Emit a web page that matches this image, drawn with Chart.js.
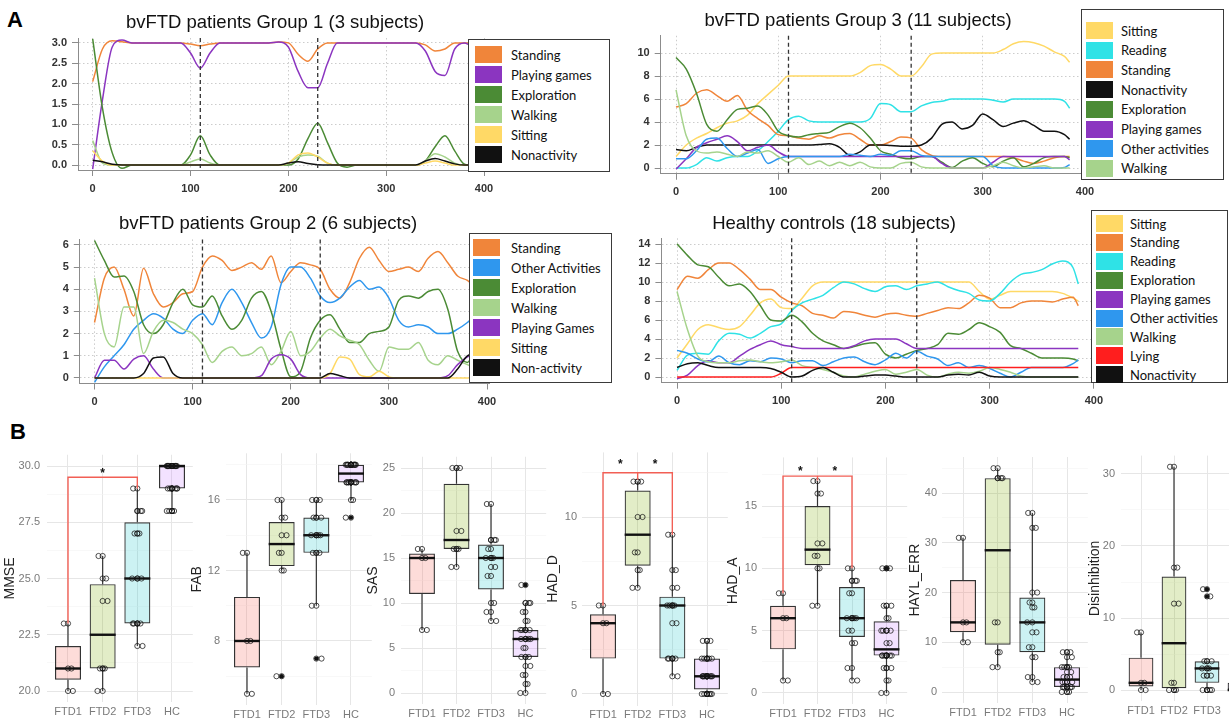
<!DOCTYPE html>
<html>
<head>
<meta charset="utf-8">
<title>Activity time courses and clinical scores</title>
<script src="https://cdn.jsdelivr.net/npm/chart.js@4.4.1/dist/chart.umd.min.js"></script>
<style>
  html, body { margin: 0; padding: 0; background: #fff; }
  body { position: relative; width: 1229px; height: 720px; overflow: hidden; font-family: "Liberation Sans", Arial, sans-serif; }
  canvas { position: absolute; left: 0; top: 0; }
  .letter { position: absolute; font-weight: bold; font-size: 22px; line-height: 24px; color: #000; }
  .title { position: absolute; font-size: 18.5px; line-height: 22px; color: #111; white-space: nowrap; transform: translateX(-50%); }
  .legend { position: absolute; z-index: 5; box-sizing: border-box; border: 1.5px solid #3a3a3a; background: #fff;
            font-family: Lato, "Open Sans", sans-serif; font-size: 13px; color: #111; }
  .legend .sw { position: absolute; width: 27px; height: 17px; }
  .legend .lb { position: absolute; white-space: nowrap; line-height: 18px; }
</style>
</head>
<body>
<div class="letter" style="left:7px;top:8px">A</div>
<div class="letter" style="left:10px;top:420px">B</div>
<script>
const CW = 1300, CH = 720;

// ---------- A: activity time courses ----------
const time = [0,10,20,30,40,50,60,70,80,90,100,110,120,130,140,150,160,170,180,190,
              200,210,220,230,240,250,260,270,280,290,300,310,320,330,340,350,360,370,380,385];
const xTicks = [0, 100, 200, 300, 400];
const phaseMarks = [110, 230];

// Group 1
const g1Labels = ['Standing', 'Playing games', 'Exploration', 'Walking', 'Sitting', 'Nonactivity'];
const g1Standing = [2.05,2.85,3.05,3.03,3.0,3.0,3.0,3.0,3.0,3.0, 2.97,2.93,2.97,3.0,3.0,3.0,3.0,3.0,3.0,3.02, 3.0,2.72,2.55,2.85,3.0,3.0,3.0,3.0,3.0,3.0, 3.0,3.0,3.0,3.0,2.95,2.8,2.85,3.0,3.0,3.0];
const g1Playing = [-0.1,1.6,2.9,3.07,3.0,3.0,3.0,3.0,3.0,3.0, 2.75,2.38,2.75,3.0,3.0,3.0,3.0,3.0,3.0,3.02, 2.9,2.3,1.9,1.9,2.5,3.0,3.0,3.0,3.0,3.0, 3.0,3.0,3.0,3.0,2.8,2.3,2.2,2.85,3.0,2.95];
const g1Exploration = [3.1,1.4,0.3,-0.08,0,0,0,0,0,0, 0.25,0.72,0.25,0,0,0,0,0,0,0, 0,0.15,0.65,1.03,0.55,0.05,-0.05,0,0,0, 0,0,0,0,0.1,0.45,0.72,0.35,0.02,0];
const g1Walking = [0.6,0.05,0,0,0,0,0,0,0,0, 0.08,0.15,0.05,0,0,0,0,0,0,0, 0.05,0.2,0.25,0.22,0.05,0,0,0,0,0, 0,0,0,0,0.1,0.28,0.2,0.05,0,0];
const g1Sitting = [0.35,0.1,0,0,0,0,0,0,0,0, 0,0,0,0,0,0,0,0,0,0, 0.05,0.25,0.3,0.2,0.05,0,0,0,0,0, 0,0,0,0,0.05,0.1,0.05,0,0,0];
const g1Nonactivity = [0.12,0.08,0.02,0,0,0,0,0,0,0, 0,0,0,0,0,0,0,0,0,0, 0.05,0.08,0.04,0.01,0,0,0,0,0,0, 0,0,0,0,0.1,0.16,0.1,0.03,0,0];
const g1YTicks = [0, 0.5, 1, 1.5, 2, 2.5, 3];

// Group 3
const g3Labels = ['Sitting', 'Reading', 'Standing', 'Nonactivity', 'Exploration', 'Playing games', 'Other activities', 'Walking'];
const g3Sitting = [1.0,2.0,2.6,3.0,3.5,3.9,4.1,4.6,5.6,6.4, 7.2,8.0,8.0,8.0,8.0,8.0,8.0,8.0,8.3,8.9, 9.0,8.6,8.0,8.0,8.8,9.9,10.0,10.0,10.0,10.0, 10.0,10.0,10.3,10.8,11.0,10.9,10.6,10.1,9.7,9.2];
const g3Reading = [0,0,0.3,0.9,0.6,0.9,1.0,1.0,1.5,2.3, 3.2,4.2,4.5,4.1,4.0,4.0,4.0,4.0,4.0,4.3, 5.6,5.5,4.9,4.9,5.4,5.7,5.8,6.0,6.0,6.0, 6.0,5.9,5.75,6.0,6.0,6.0,6.0,6.0,5.8,5.2];
const g3Standing = [5.3,5.6,6.5,6.8,6.3,5.8,6.3,5.0,4.3,3.7, 2.9,2.8,2.6,2.5,2.8,2.6,2.9,3.0,2.5,2.0, 2.0,2.3,2.7,2.6,1.6,1.1,1.0,1.0,1.0,1.0, 1.0,1.0,1.0,0.9,0.6,0.4,0.6,0.9,1.0,1.0];
const g3Nonactivity = [1.6,1.5,1.8,2.0,2.0,2.0,2.0,2.0,2.0,2.0, 2.0,2.0,2.0,2.0,2.05,2.1,1.8,1.1,1.4,2.0, 2.0,1.95,1.9,1.9,2.0,2.6,3.8,4.0,3.4,3.7, 4.7,4.2,3.6,3.9,4.1,3.7,3.2,3.2,2.9,2.5];
const g3Exploration = [9.6,8.6,6.5,3.8,3.2,4.2,5.1,5.2,5.4,4.6, 3.2,2.8,2.7,2.9,3.0,3.1,3.6,3.9,3.5,2.6, 1.5,1.2,0.9,0.8,1.0,1.0,0.5,0.05,0.6,0.9, 0.4,0.1,0.6,0.9,0.1,0.4,0.9,1.0,1.0,0.9];
const g3Playing = [-0.1,0.8,1.8,2.2,2.5,2.8,2.3,1.5,1.8,2.0, 1.4,1.0,1.0,1.0,1.0,1.0,1.0,1.0,1.0,1.0, 1.0,1.0,1.0,1.0,1.0,1.0,0.4,0,0,0, 0,0.5,1.0,1.0,1.0,1.0,1.0,1.0,1.0,0.7];
const g3Other = [0.8,0.8,1.5,2.5,2.6,1.7,1.0,1.3,1.6,0.4, 0.8,1.0,1.0,1.0,1.0,1.0,1.0,1.2,1.1,1.0, 1.2,1.1,1.5,1.5,1.1,1.0,1.0,1.0,1.0,1.0, 1.0,0.2,0,0,0,0,0,0,0.05,0.3];
const g3Walking = [6.8,2.8,1.5,1.3,1.4,1.2,1.0,1.4,1.3,1.5, 1.0,0.5,0.9,0.3,0.6,0.2,0.5,0.2,0.5,0.1, 0,0,0.4,0.5,0.1,0,0,0,0,0, 0,0.2,0.5,0.2,0,0.1,0.2,0,0,0];
const g3YTicks = [0, 2, 4, 6, 8, 10];

// Group 2
const g2Labels = ['Standing', 'Other Activities', 'Exploration', 'Walking', 'Playing Games', 'Sitting', 'Non-activity'];
const g2Standing = [2.5,4.5,5.0,4.0,2.8,4.95,3.8,3.2,3.4,3.8, 3.9,5.0,5.5,5.3,4.85,5.0,5.2,4.9,5.5,4.3, 4.8,5.2,5.1,4.9,4.0,3.6,4.3,5.4,5.9,5.3, 4.8,4.9,5.0,4.8,5.4,5.7,5.2,4.6,4.4,4.2];
const g2Other = [-0.2,0.5,1.0,1.5,2.2,2.6,2.9,2.7,2.2,2.0, 2.6,2.9,2.4,3.4,4.0,3.4,2.5,1.8,2.3,4.2, 5.0,5.0,4.5,3.7,3.4,3.6,4.1,4.4,4.0,4.1, 3.6,2.6,2.3,2.4,2.3,2.0,2.0,2.2,2.5,2.7];
const g2Exploration = [6.2,5.3,4.55,4.6,3.9,2.4,2.0,2.4,3.4,4.0, 3.3,3.2,3.7,2.8,2.2,2.6,3.6,3.9,3.0,1.3, 0.05,0.3,1.8,2.6,2.85,2.2,1.6,1.6,2.0,2.1, 2.3,3.5,3.7,3.6,3.9,4.0,3.1,1.2,0.7,1.0];
const g2Walking = [4.5,2.0,1.4,3.2,3.2,1.1,2.1,2.6,2.5,2.2, 2.0,1.5,0.7,1.2,1.4,1.0,1.1,1.4,0.6,1.2, 2.1,1.0,1.2,1.8,2.2,1.9,1.7,1.5,0.8,0.3, 1.4,1.3,1.3,1.6,0.8,0.6,1.0,0.8,0.6,0.5];
const g2Playing = [0,0.8,0.8,0.4,0.85,1.0,0.4,0,0,0, 0,0,0,0,0,0,0,0.1,0.85,1.05, 0.85,0.15,0,0,0,0,0,0,0,0, 0,0,0,0,0,0,0.1,0.6,0.95,1.0];
const g2Sitting = [0,0,0,0,0,0,0,0,0,0, 0,0,0,0,0,0,0,0,0,0, 0,0,0,0,0.2,0.95,0.85,0.15,0.05,0.3, 0.05,0,0,0,0,0,0,0,0,0];
const g2Nonactivity = [0,0,0,0,0,0.2,0.9,0.95,0.2,0, 0,0,0,0,0,0,0,0,0,0, 0,0,0,0,0.2,0.1,0,0,0,0, 0,0,0,0,0,0,0,0.4,1.0,1.05];
const g2YTicks = [0, 1, 2, 3, 4, 5, 6];

// Healthy controls
const hcLabels = ['Sitting', 'Standing', 'Reading', 'Exploration', 'Playing games', 'Other activities', 'Walking', 'Lying', 'Nonactivity'];
const hcSitting = [2.0,3.5,5.0,5.5,5.2,5.0,5.3,6.5,7.8,8.2, 7.3,7.2,8.3,9.6,10.0,10.0,10.0,10.0,10.0,10.0, 10.0,10.0,10.0,10.0,10.0,10.0,10.0,10.0,10.0,9.0, 8.2,8.6,9.0,9.0,9.0,9.0,9.0,8.8,8.3,8.0];
const hcStanding = [9.2,10.6,10.4,11.3,12.0,12.0,11.3,10.3,9.2,9.2, 8.4,7.8,7.5,6.7,6.5,6.2,6.9,6.8,6.5,6.3, 6.6,6.7,6.5,6.4,6.7,7.0,7.3,7.2,7.8,8.6, 8.3,7.3,7.3,7.8,8.0,8.0,7.9,8.2,8.4,7.5];
const hcReading = [0.7,2.3,2.5,2.4,3.8,4.6,4.5,4.1,4.6,5.3, 5.6,7.0,7.8,8.2,8.6,9.4,10.0,9.8,9.3,9.0, 9.5,9.6,9.2,9.6,9.8,10.0,9.5,9.1,8.8,8.1, 8.0,8.8,10.0,10.8,11.0,11.3,11.9,12.2,11.5,9.8];
const hcExploration = [14.0,12.8,11.8,11.6,10.5,9.6,9.8,9.0,7.5,6.0, 5.9,6.5,5.8,4.6,3.8,3.4,3.0,3.2,3.5,3.6, 2.4,2.0,2.4,2.8,3.0,3.4,4.6,4.5,5.0,5.7, 5.3,4.7,3.3,3.0,2.5,2.0,2.0,2.0,1.9,1.7];
const hcPlaying = [-0.2,0.2,1.2,1.7,1.5,1.5,2.2,2.9,3.4,3.8, 3.4,3.2,3.0,3.0,3.0,3.0,3.0,3.3,3.8,4.0, 4.0,4.0,3.5,3.0,3.0,3.0,3.0,3.0,3.0,3.0, 3.0,3.0,3.0,3.0,3.0,3.0,3.0,3.0,3.0,3.0];
const hcOther = [2.8,2.5,1.9,1.6,2.2,1.5,1.3,1.7,1.6,2.0, 1.9,1.5,1.7,1.7,1.2,1.6,2.0,2.1,1.6,1.3, 1.8,2.5,2.0,2.7,2.2,1.9,1.2,1.5,1.0,1.2, 0.9,0.4,0.0,0.5,1.0,1.0,1.0,1.0,1.4,1.8];
const hcWalking = [9.0,5.0,2.2,1.6,1.5,1.5,1.7,1.8,1.6,1.5, 1.6,1.8,1.2,1.0,0.8,0.5,0.1,0.0,0.3,0.6, 0.8,0.3,0.5,0.8,0.2,0.0,0.3,0.5,0.4,0.6, 1.0,0.8,0.5,0.1,0,0,0,0,0,0];
const hcLying = [0,0,0,0,0,0,0,0,0,0, 0.4,1.0,1.0,1.0,1.0,1.0,1.0,1.0,1.0,1.0, 1.0,1.0,1.0,1.0,1.0,1.0,1.0,1.0,1.0,1.0, 1.0,1.0,1.0,1.0,1.0,1.0,1.0,1.0,1.0,1.0];
const hcNonactivity = [1.0,1.4,1.5,1.2,1.0,1.0,1.0,1.0,1.0,0.9, 0.5,0.0,0.1,0.7,1.0,0.5,0.0,0.0,0.1,0.2, 0.2,0.1,0.0,0.0,0.0,0.0,0.2,0.3,0.2,0.5, 0.1,0,0,0,0,0,0,0,0,0];
const hcYTicks = [0, 2, 4, 6, 8, 10, 12, 14];

// ---------- B: clinical scores, [whisker low, Q1, median, Q3, whisker high] ----------
const boxGroups = ['FTD1', 'FTD2', 'FTD3', 'HC'];

const mmseStats = [[20,20.5,21,22,23], [20,21,22.5,24.75,26], [22,23,25,27.5,29], [28,29,30,30,30]];
const mmsePoints = [[23,21,20], [26,25,24,21,21,20], [29,28,28,27,27,25,25,23,23,23,22],
                    [30,30,30,30,30,30,30,30,30,30,29,29,29,29,29,28,28,28]];
const mmseTicks = [20, 22.5, 25, 27.5, 30];

const fabStats = [[5,6.5,8,10.5,13], [12,12.25,13.5,14.75,16], [10,13,14,15,16], [16,17,17.5,18,18]];
const fabPoints = [[13,8,5], [16,15,14,13,12,6], [16,16,15,15,14,14,14,13,13,10,7],
                   [18,18,18,18,18,18,18,18,18,17,17,17,17,17,17,17,16,15]];
const fabTicks = [8, 12, 16];

const sasStats = [[7,11,15,15.5,16], [14,16,17,23.25,25], [8,11.5,15,16.5,21], [0,4,6,7,10]];
const sasPoints = [[16,15,7], [25,25,18,16,16,14], [21,17,17,16,15,15,14,13,10,9,8],
                   [12,10,10,9,8,7,7,7,6,6,6,5,4,4,3,2,1,0]];
const sasTicks = [0, 5, 10, 15, 20, 25];

const hadDStats = [[0,2,4,4.5,5], [6,7.25,9,11.5,12], [1,2,5,5.5,9], [0,0.25,1,2,3]];
const hadDPoints = [[5,4,0], [12,12,10,8,7,6], [9,7,6,5,5,5,4,2,2,2,1],
                    [3,3,2,2,2,2,1,1,1,1,1,1,1,0,0,0,0,0]];
const hadDTicks = [0, 5, 10];

const hadAStats = [[1,3.5,6,7,8], [7,10.25,11.5,15,17], [1,4.5,6,8.5,10], [0,3,3.5,5.75,7]];
const hadAPoints = [[8,6,1], [17,16,12,11,10,7], [10,9,9,8,6,6,6,5,4,2,1],
                    [10,10,7,7,6,5,5,5,4,3,3,3,3,3,2,2,1,0]];
const hadATicks = [0, 5, 10, 15];

const haylStats = [[10,12,14,22.5,31], [5,9.5,28.5,43,45], [2,8,14,19,36], [0,1,2.5,5,8]];
const haylPoints = [[31,14,10], [45,43,43,14,8,5], [36,33,20,18,17,14,12,9,7,3,2],
                    [8,8,7,5,5,5,4,3,3,2,2,2,1,1,1,1,0,0]];
const haylTicks = [0, 10, 20, 30, 40];

const disStats = [[0,0.5,1,4.5,8], [0,0.25,6.5,15.75,31], [0,1,3,4,4], [0,0,0,1,2]];
const disPoints = [[8,1,0], [31,17,12,1,0,0], [14,13,4,4,3,3,2,2,0,0,0], [2,1,1,0,0,0,0,0,0,0]];
const disTicks = [0, 10, 20, 30];

// significance brackets (group index, value) and star positions
const mmseBrackets = [[[0,23],[0,29.5],[2,29.5],[2,29]]];
const mmseStars = [[1,29.8]];
const hadDBrackets = [[[0,5],[0,12.5],[2,12.5],[2,9]], [[1,12.5],[1,12.1]]];
const hadDStars = [[0.5,13.1],[1.5,13.1]];
const hadABrackets = [[[0,8],[0,17.4],[2,17.4],[2,10]], [[1,17.4],[1,17.05]]];
const hadAStars = [[0.5,18.0],[1.5,18.0]];

// ---------- styling ----------
const activityColor = {
  'standing': '#F0853A', 'playing games': '#8B35C0', 'exploration': '#4B8B35', 'walking': '#A6D38C',
  'sitting': '#FFD966', 'nonactivity': '#111111', 'reading': '#2FE2E6', 'other activities': '#2F97EE', 'lying': '#FF1E1E'
};
const colorFor = l => activityColor[l.toLowerCase().replace('-', '')];
const boxFill = ['rgba(248,118,109,0.26)', 'rgba(124,174,0,0.22)', 'rgba(0,191,196,0.2)', 'rgba(199,124,255,0.22)'];
const jitter = [-0.12, 0.1, 0.14, -0.08, 0.06, -0.15, 0.12, -0.1, 0.09, -0.13, 0.15, -0.06];

function makeCanvas() {
  const c = document.createElement('canvas');
  c.width = CW; c.height = CH;
  c.style.width = CW + 'px'; c.style.height = CH + 'px';
  document.body.appendChild(c);
  return c;
}

function addText(cls, text, x, y) {
  const d = document.createElement('div');
  d.className = cls; d.textContent = text;
  d.style.left = x + 'px'; d.style.top = (y - 11) + 'px';
  document.body.appendChild(d);
}

function addLegend(lg, labels) {
  const box = document.createElement('div');
  box.className = 'legend';
  Object.assign(box.style, {left: lg.left + 'px', top: lg.top + 'px', width: lg.w + 'px', height: lg.h + 'px'});
  labels.forEach((lab, i) => {
    const cy = lg.first + i * lg.step - 1.5;
    const sw = document.createElement('div');
    sw.className = 'sw';
    Object.assign(sw.style, {left: lg.sw + 'px', top: (cy - 8.5) + 'px', background: colorFor(lab)});
    const tx = document.createElement('div');
    tx.className = 'lb'; tx.textContent = lab;
    Object.assign(tx.style, {left: lg.tx + 'px', top: (cy - 9) + 'px'});
    box.appendChild(sw); box.appendChild(tx);
  });
  document.body.appendChild(box);
}

// dashed phase markers
function phasePlugin(times) {
  return {
    id: 'phaseLines',
    afterDatasetsDraw(chart) {
      const {ctx, chartArea, scales: {x}} = chart;
      ctx.save();
      ctx.strokeStyle = '#333'; ctx.lineWidth = 1.3; ctx.setLineDash([4, 3]);
      times.forEach(t => {
        const px = x.getPixelForValue(t);
        ctx.beginPath(); ctx.moveTo(px, chartArea.top); ctx.lineTo(px, chartArea.bottom); ctx.stroke();
      });
      ctx.restore();
    }
  };
}

const rTick = {color: '#333', font: {family: '"Liberation Sans", Arial', size: 11, weight: 'bold'}, padding: 5, autoSkip: false, maxRotation: 0};
const rGrid = {color: '#cccccc', lineWidth: 1, drawTicks: true, tickLength: 6, tickColor: '#8c8c8c', tickWidth: 1};
const rBorder = {display: true, color: '#8c8c8c', width: 1, dash: [1.5, 2.5]};

function lineChart(p) {
  new Chart(makeCanvas(), {
    type: 'line',
    data: {
      datasets: p.series.map((s, i) => ({
        label: p.labels[i],
        data: time.map((t, k) => ({x: t, y: s[k]})),
        borderColor: colorFor(p.labels[i]),
        borderWidth: 1.5, pointRadius: 0, fill: false,
        cubicInterpolationMode: 'monotone', order: -i
      }))
    },
    options: {
      responsive: false, animation: false, events: [], devicePixelRatio: 1,
      layout: {padding: {left: 0, top: p.area.t, right: CW - p.area.r, bottom: CH - p.area.b - 30}},
      plugins: {legend: {display: false}, tooltip: {enabled: false}},
      scales: {
        x: {type: 'linear', min: p.x[0], max: p.x[1],
            afterBuildTicks: s => { s.ticks = xTicks.map(v => ({value: v})); },
            afterFit: s => { s.height = 30; },
            ticks: {...rTick, padding: 6, callback: v => String(v)}, grid: rGrid, border: rBorder},
        y: {type: 'linear', min: p.y[0], max: p.y[1],
            afterBuildTicks: s => { s.ticks = p.yTicks.map(v => ({value: v})); },
            afterFit: s => { s.width = p.area.l; },
            ticks: {...rTick, callback: v => v.toFixed(p.dec)}, grid: rGrid, border: rBorder}
      }
    },
    plugins: [phasePlugin(phaseMarks)]
  });
  addText('title', p.title, p.titleAt[0], p.titleAt[1]);
  addLegend(p.legend, p.labels);
}

function withMinor(major, lo, hi) {
  const step = major[1] - major[0];
  const out = major.map(v => ({value: v}));
  [major[0] - step / 2, ...major.map(v => v + step / 2)].forEach(v => {
    if (v >= lo && v <= hi) out.push({value: v, minor: true});
  });
  return out.sort((a, b) => a.value - b.value);
}

function boxPlugin(p) {
  return {
    id: 'boxParts',
    afterDatasetDraw(chart, args) {
      if (args.index !== 0) return;
      const {ctx, scales: {y}} = chart;
      const bars = args.meta.data;
      ctx.save();
      ctx.strokeStyle = '#333'; ctx.lineWidth = 1.2;
      p.stats.forEach((s, g) => {
        const cx = bars[g].x;
        ctx.beginPath();
        ctx.moveTo(cx, y.getPixelForValue(s[0])); ctx.lineTo(cx, y.getPixelForValue(s[1]));
        ctx.moveTo(cx, y.getPixelForValue(s[3])); ctx.lineTo(cx, y.getPixelForValue(s[4]));
        ctx.stroke();
      });
      ctx.strokeStyle = '#111'; ctx.lineWidth = 2.4;
      p.stats.forEach((s, g) => {
        const b = bars[g], py = y.getPixelForValue(s[2]);
        ctx.beginPath(); ctx.moveTo(b.x - b.width / 2, py); ctx.lineTo(b.x + b.width / 2, py); ctx.stroke();
      });
      ctx.restore();
    },
    afterDatasetsDraw(chart) {
      if (!p.stars) return;
      const {ctx, scales: {x, y}} = chart;
      ctx.save();
      ctx.fillStyle = '#111'; ctx.font = 'bold 12px "Liberation Sans", Arial';
      ctx.textAlign = 'center'; ctx.textBaseline = 'middle';
      p.stars.forEach(([sx, sy]) => ctx.fillText('*', x.getPixelForValue(sx), y.getPixelForValue(sy) + 3));
      ctx.restore();
    }
  };
}

function boxChart(p) {
  const cloud = [], outliers = [];
  p.points.forEach((vals, g) => vals.forEach((v, k) => {
    cloud.push({x: g, y: v});
    cloud.push({x: g + jitter[k % jitter.length], y: v});
    if (v < p.stats[g][0] || v > p.stats[g][4]) outliers.push({x: g, y: v});
  }));
  const datasets = [
    {type: 'bar', data: p.stats.map((s, g) => ({x: g, y: [s[1], s[3]]})),
     backgroundColor: boxFill, borderColor: '#333', borderWidth: 1.2, borderSkipped: false,
     barPercentage: 0.75, categoryPercentage: 1, order: 3},
    {type: 'scatter', data: outliers, pointRadius: 2.2, backgroundColor: '#111', borderWidth: 0, order: 2},
    {type: 'scatter', data: cloud, pointRadius: 2.6, borderColor: 'rgba(20,20,20,0.75)', borderWidth: 1,
     backgroundColor: 'rgba(0,0,0,0)', order: 1},
    ...(p.brackets || []).map(b => ({type: 'line', data: b.map(([bx, by]) => ({x: bx, y: by})),
      borderColor: '#F25F55', borderWidth: 1.4, pointRadius: 0, tension: 0, fill: false, order: 0}))
  ];
  const axisText = {color: '#7a7a7a', font: {family: '"Liberation Sans", Arial', size: 11}};
  new Chart(makeCanvas(), {
    type: 'bar',
    data: {datasets},
    options: {
      responsive: false, animation: false, events: [], devicePixelRatio: 1,
      layout: {padding: {left: 0, top: p.area.t, right: CW - p.area.r, bottom: 0}},
      plugins: {legend: {display: false}, tooltip: {enabled: false}},
      scales: {
        x: {type: 'linear', min: -0.6, max: 3.6, offset: false,
            afterBuildTicks: s => { s.ticks = boxGroups.map((g, i) => ({value: i})); },
            afterFit: s => { s.height = CH - p.area.b; },
            ticks: {...axisText, autoSkip: false, maxRotation: 0, padding: 3, callback: v => boxGroups[v]},
            grid: {drawTicks: false, offset: false, color: '#E6E6E6', lineWidth: 1},
            border: {display: false}},
        y: {type: 'linear', min: p.y[0], max: p.y[1], beginAtZero: false,
            afterBuildTicks: s => { s.ticks = withMinor(p.ticks, p.y[0], p.y[1]); },
            afterFit: s => { s.width = p.area.l; },
            ticks: {...axisText, autoSkip: false, padding: p.area.l - p.tickRight,
                    callback: (v, i, t) => t[i].minor ? '' : v.toFixed(p.dec)},
            grid: {drawTicks: false, color: c => c.tick && c.tick.minor ? '#F3F3F3' : '#E6E6E6',
                   lineWidth: c => c.tick && c.tick.minor ? 0.6 : 1},
            border: {display: false},
            title: {display: true, text: p.name, color: '#222', font: {family: '"Liberation Sans", Arial', size: 14},
                    padding: {top: p.titleX - 8.4, bottom: 0}}}
      }
    },
    plugins: [boxPlugin(p)]
  });
}

// ---------- panels ----------
lineChart({title: 'bvFTD patients Group 1 (3 subjects)', titleAt: [275, 22], labels: g1Labels,
  series: [g1Standing, g1Playing, g1Exploration, g1Walking, g1Sitting, g1Nonactivity],
  yTicks: g1YTicks, dec: 1, x: [-15, 402], y: [-0.12, 3.12], area: {l: 78, r: 486, t: 38, b: 170},
  legend: {left: 468, top: 39, w: 142, h: 133, first: 16, step: 20, sw: 6, tx: 42}});

lineChart({title: 'bvFTD patients Group 3 (11 subjects)', titleAt: [858, 20], labels: g3Labels,
  series: [g3Sitting, g3Reading, g3Standing, g3Nonactivity, g3Exploration, g3Playing, g3Other, g3Walking],
  yTicks: g3YTicks, dec: 0, x: [-15, 402], y: [-0.5, 11.5], area: {l: 660.7, r: 1087, t: 35.75, b: 173.75},
  legend: {left: 1081, top: 9, w: 143, h: 171, first: 22, step: 19.7, sw: 4, tx: 39}});

lineChart({title: 'bvFTD patients Group 2 (6 subjects)', titleAt: [268, 223], labels: g2Labels,
  series: [g2Standing, g2Other, g2Exploration, g2Walking, g2Playing, g2Sitting, g2Nonactivity],
  yTicks: g2YTicks, dec: 0, x: [-15, 402], y: [-0.25, 6.25], area: {l: 79.8, r: 489, t: 239.4, b: 383.5},
  legend: {left: 469, top: 233, w: 143, h: 150, first: 15, step: 20, sw: 3, tx: 41}});

lineChart({title: 'Healthy controls (18 subjects)', titleAt: [834, 223], labels: hcLabels,
  series: [hcSitting, hcStanding, hcReading, hcExploration, hcPlaying, hcOther, hcWalking, hcLying, hcNonactivity],
  yTicks: hcYTicks, dec: 0, x: [-15, 402], y: [-0.6, 14.6], area: {l: 661.4, r: 1096, t: 238.3, b: 382.7},
  legend: {left: 1091, top: 210, w: 137, h: 173, first: 14, step: 18.9, sw: 4, tx: 38}});

boxChart({name: 'MMSE', stats: mmseStats, points: mmsePoints, ticks: mmseTicks, dec: 1, y: [19.5, 30.5],
  area: {l: 47.2, r: 192.8, t: 454.75, b: 702.25}, titleX: 10, tickRight: 40, brackets: mmseBrackets, stars: mmseStars});
boxChart({name: 'FAB', stats: fabStats, points: fabPoints, ticks: fabTicks, dec: 0, y: [4.35, 18.65],
  area: {l: 226.2, r: 371.8, t: 453.3, b: 705.3}, titleX: 197, tickRight: 220});
boxChart({name: 'SAS', stats: sasStats, points: sasPoints, ticks: sasTicks, dec: 0, y: [-1.25, 26.25],
  area: {l: 401.3, r: 546.2, t: 456.75, b: 704.25}, titleX: 373, tickRight: 395});
boxChart({name: 'HAD_D', stats: hadDStats, points: hadDPoints, ticks: hadDTicks, dec: 0, y: [-0.65, 13.65],
  area: {l: 582.2, r: 727.8, t: 452.4, b: 705.5}, titleX: 553, tickRight: 577, brackets: hadDBrackets, stars: hadDStars});
boxChart({name: 'HAD_A', stats: hadAStats, points: hadAPoints, ticks: hadATicks, dec: 0, y: [-0.9, 18.9],
  area: {l: 762.3, r: 907.2, t: 457.4, b: 704.2}, titleX: 733, tickRight: 757, brackets: hadABrackets, stars: hadAStars});
boxChart({name: 'HAYL_ERR', stats: haylStats, points: haylPoints, ticks: haylTicks, dec: 0, y: [-2.25, 47.25],
  area: {l: 942.2, r: 1087.8, t: 457, b: 703.2}, titleX: 915, tickRight: 937});
boxChart({name: 'Disinhibition', stats: disStats, points: disPoints, ticks: disTicks, dec: 0, y: [-1.55, 32.55],
  area: {l: 1121.2, r: 1259.8, t: 455.6, b: 701.2}, titleX: 1095, tickRight: 1115});
</script>
</body>
</html>
